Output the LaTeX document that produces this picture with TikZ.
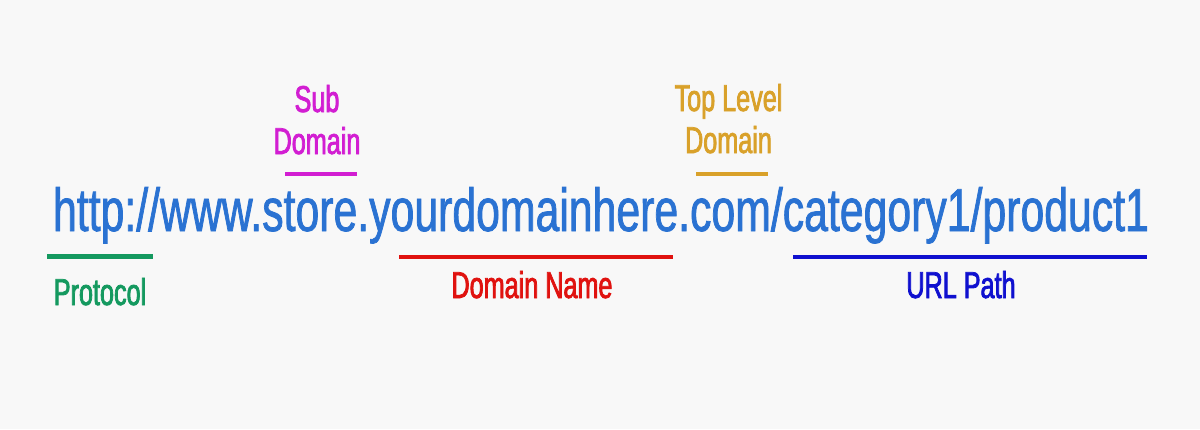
\documentclass[tikz,border=0pt]{standalone}
\usepackage{fontspec}
\setmainfont{Liberation Sans}
\newfontfamily\condfont[FakeStretch=0.705,FakeBold=1.2]{Liberation Sans}
\newfontfamily\lblfont[FakeStretch=0.675,FakeBold=2]{Liberation Sans}
\definecolor{bg}{HTML}{F8F8F8}
\definecolor{urlblue}{HTML}{2A72D2}
\definecolor{protgreen}{HTML}{14995F}
\definecolor{submag}{HTML}{D21ED2}
\definecolor{domred}{HTML}{E0120F}
\definecolor{tldgold}{HTML}{D9A12A}
\definecolor{pathblue}{HTML}{0F10CF}
\begin{document}
\begin{tikzpicture}[x=0.75pt,y=-0.75pt,
  urltext/.style={inner sep=0pt,anchor=base,text=urlblue,font=\condfont\fontsize{45.5pt}{50pt}\selectfont},
  lbl/.style={inner sep=0pt,anchor=base,align=center,font=\lblfont\fontsize{28pt}{31.5pt}\selectfont},
  bar/.style={line width=3.4pt}]
\fill[bg] (0,0) rectangle (1200,429);
\useasboundingbox (0,0) rectangle (1200,429);
% URL
\node[urltext] (url) at (601,231) {http://www.store.yourdomainhere.com/category1/product1};
% bars
\coordinate (p1) at (47,256.5);  \coordinate (p2) at (153,256.5);
\coordinate (s1) at (285,174);   \coordinate (s2) at (357,174);
\coordinate (d1) at (399,257);   \coordinate (d2) at (673,257);
\coordinate (t1) at (696,174);   \coordinate (t2) at (768,174);
\coordinate (u1) at (793,257);   \coordinate (u2) at (1147,257);
\draw[bar,protgreen] (p1) -- (p2);
\draw[bar,submag] (s1) -- (s2);
\draw[bar,domred] (d1) -- (d2);
\draw[bar,tldgold] (t1) -- (t2);
\draw[bar,pathblue] (u1) -- (u2);
% labels
\node[lbl,text=protgreen] (prot) at (100,305) {Protocol};
\node[lbl,text=submag] (sub) at (317,154) {Sub\\Domain};
\node[lbl,text=domred] (dom) at (532,298) {Domain Name};
\node[lbl,text=tldgold] (tld) at (728.5,153) {Top Level\\Domain};
\node[lbl,text=pathblue] (path) at (961,298) {URL Path};
\end{tikzpicture}
\end{document}
